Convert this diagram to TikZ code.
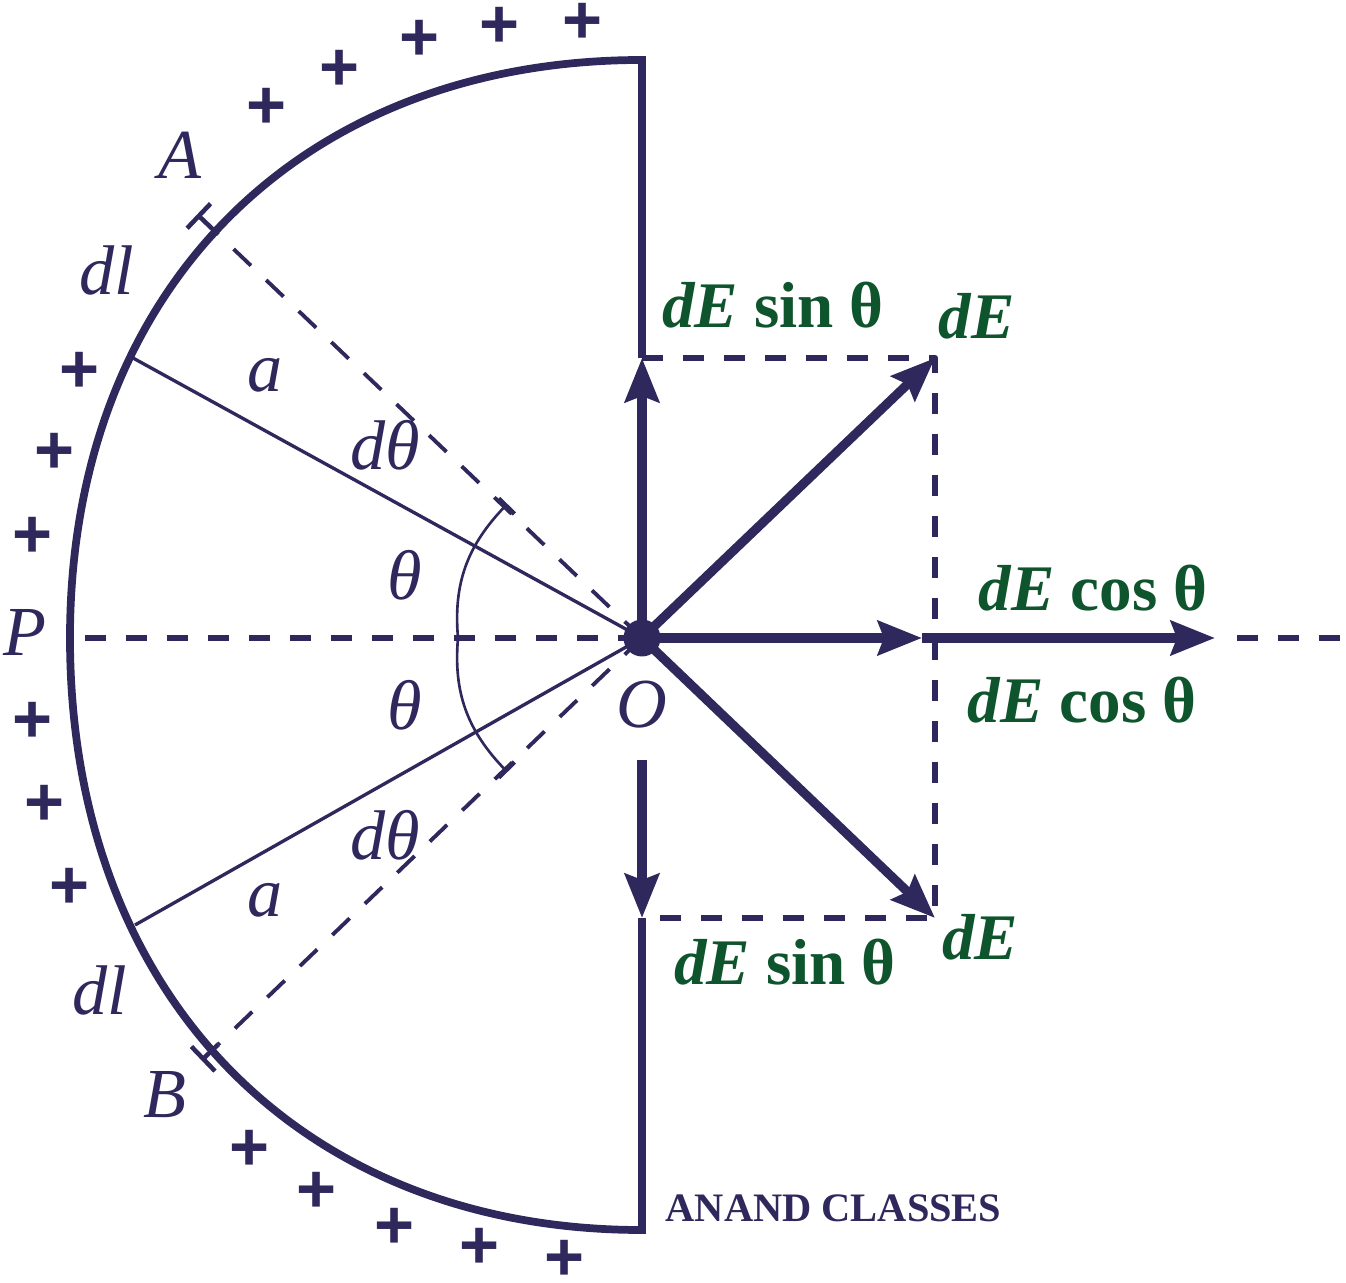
\documentclass[tikz,border=0pt]{standalone}
\usepackage{fontspec}
\setmainfont{Liberation Serif}
\newfontfamily\plusfont{Liberation Sans}
\usetikzlibrary{arrows.meta, positioning}
\definecolor{ink}{RGB}{47,40,92}
\definecolor{leaf}{RGB}{14,84,44}

\begin{document}
\begin{tikzpicture}[line join=round,
    every node/.style={inner sep=0pt, text=ink, font=\fontsize{20}{24}\selectfont\itshape},
    comp/.style={text=leaf, font=\fontsize{18.5}{22}\selectfont\bfseries},
    charge/.style={font=\plusfont\bfseries\fontsize{19.5}{22}\selectfont},
    rim/.style={draw=ink, line width=2.2pt, line join=miter},
    vec/.style={draw=ink, line width=2.6pt, -{Stealth[length=4.4mm, width=3.4mm, inset=0.6mm]}},
    radius/.style={draw=ink, line width=0.95pt},
    ray/.style={draw=ink, line width=1.1pt, dash pattern=on 2.4mm off 2.1mm},
    guide/.style={draw=ink, line width=1.9pt, dash pattern=on 2.1mm off 2mm},
    brace/.style={draw=ink, line width=0.75pt},
    endbar/.style={draw=ink, line width=1.3pt}]
  \useasboundingbox (-6.42,-6.44) rectangle (7.04,6.38);

  % centre, ends of the ring and corners of the components
  \coordinate (O) at (0,0);
  \coordinate (top) at (0,5.78);
  \coordinate (bot) at (0,-5.92);
  \coordinate (sinU) at (0,2.80);
  \coordinate (sinD) at (0,-2.80);
  \coordinate[below=1.22cm of O] (gap);
  \coordinate[right=2.8cm of O] (cosA);
  \coordinate[right=5.73cm of O] (cosB);
  \coordinate[right=0.22cm of cosB] (tail);
  \coordinate (east) at (7.04,0);
  \coordinate (west) at (-5.57,0);
  \coordinate (ru) at (2.93,2.80);
  \coordinate (rd) at (2.93,-2.80);
  \coordinate (ra) at (-5.09,2.80);
  \coordinate (rb) at (-5.07,-2.87);
  \coordinate (A) at (136.4:5.91);
  \coordinate (At) at (136.4:6.12);
  \coordinate (B) at (223.8:5.87);
  \coordinate (Bt) at (223.8:6.08);

  % ring
  \draw[rim] (sinU) -- (top) .. controls (-3.43,5.78) and (-5.72,3.47) .. (-5.72,0)
    .. controls (-5.72,-3.55) and (-3.43,-5.92) .. (bot) -- (sinD);

  % dashed guides
  \draw[guide] (west) -- (O);
  \draw[guide] (tail) -- (east);
  \draw[guide] (sinU) -- (ru) -- (rd) -- (sinD);

  % radii to the elements
  \draw[radius] (O) -- (ra);
  \draw[radius] (O) -- (rb);
  \draw[ray] (O) -- (A);
  \draw[ray] (O) -- (B);
  \draw[endbar] (A) -- (At) +(46.4:0.17) -- +(226.4:0.17);
  \draw[endbar] (B) -- (Bt) +(313.8:0.17) -- +(133.8:0.17);
  \draw[endbar, line width=1pt, dash pattern=on 0.7mm off 1.3mm] (138.5:6.06) arc[start angle=138.5, end angle=143.5, radius=6.06];

  % angle marks
  \draw[brace] (135.8:1.9) to[out=225.8, in=95] (180:1.84) to[out=265, in=134.2] (224.2:1.9);
  \draw[endbar] (135.8:1.78) -- (135.8:2.0);
  \draw[endbar] (224.2:1.78) -- (224.2:2.0);

  % field vectors
  \draw[vec] (O) -- (sinU);
  \draw[vec] (gap) -- (sinD);
  \draw[vec] (O) -- (cosA);
  \draw[vec] (cosA) -- (cosB);
  \draw[vec] (O) -- (ru);
  \draw[vec] (O) -- (rd);
  \node[circle, fill=ink, minimum size=3.7mm] (dot) at (O) {};

  % labels
  \node (lA) at (-4.62,4.83) {A};
  \node (dlu) at (-5.35,3.68) {dl};
  \node (au) at (-3.77,2.63) {a};
  \node (dthu) at (-2.57,1.93) {dθ};
  \node (thu) at (-2.37,0.63) {θ};
  \node (lP) at (-6.17,0.06) {P};
  \node (thd) at (-2.37,-0.67) {θ};
  \node[below=0.42cm of O] (lO) {O};
  \node (dthd) at (-2.57,-1.97) {dθ};
  \node (ad) at (-3.77,-2.62) {a};
  \node (dld) at (-5.42,-3.52) {dl};
  \node (lB) at (-4.77,-4.57) {B};

  \node[comp] (su) at (1.31,3.33) {\textit{dE} sin θ};
  \node[comp, above right=0.18cm and 0.03cm of ru] (eu) {\textit{dE}};
  \node[comp] (cu) at (4.51,0.50) {\textit{dE} cos θ};
  \node[comp] (cd) at (4.40,-0.62) {\textit{dE} cos θ};
  \node[comp] (sd) at (1.43,-3.24) {\textit{dE} sin θ};
  \node[comp] (ed) at (3.38,-2.99) {\textit{dE}};

  \node[anchor=west, font=\fontsize{11.5}{13}\selectfont\bfseries] (brand) at (0.23,-5.70) {ANAND CLASSES};

  % charges on the ring
  \foreach \x/\y [count=\i] in {-0.59/6.15, -1.42/6.11, -2.22/5.98, -3.02/5.68, -3.75/5.30,
      -5.62/2.66, -5.87/1.85, -6.09/1.01, -6.09/-0.84, -5.97/-1.67, -5.72/-2.50,
      -3.92/-5.12, -3.25/-5.54, -2.47/-5.90, -1.62/-6.10, -0.77/-6.22}
    \node[charge] (q\i) at (\x,\y) {+};
\end{tikzpicture}
\end{document}
